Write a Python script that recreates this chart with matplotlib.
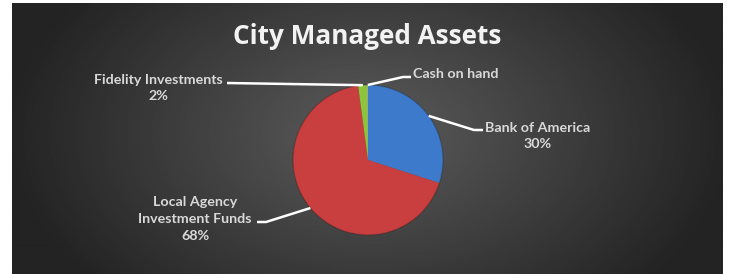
import numpy as np
import matplotlib.pyplot as plt

# data
labels = ["Bank of America", "Local Agency\nInvestment Funds", "Fidelity Investments", "Cash on hand"]
shares = [30.0, 68.0, 2.0, 0.1]
pct_text = ["30%", "68%", "2%", ""]
colors = ["#3d7acb", "#c93e3e", "#8cc43c", "#d0d0d0"]

W, H = 729, 274
fig = plt.figure(figsize=(W / 100, H / 100), dpi=100)
fig.patch.set_facecolor("white")

ax = fig.add_axes([0, 0, 1, 1])

### dark radial background panel
x0, x1, y0, y1 = 12, 723, 0, 271
gx, gy = np.meshgrid(np.linspace(x0, x1, 400), np.linspace(y0, y1, 200))
d = np.sqrt(((gx - 370) / 360) ** 2 + ((gy - 140) / 230) ** 2)
shade = np.clip(0.36 - 0.22 * d, 0.14, 0.36)
ax.imshow(shade, extent=(x0, x1, y0, y1), origin="lower", cmap="gray",
          vmin=0, vmax=1, interpolation="bilinear", zorder=0)

### title
ax.text(367, H - 36, "City Managed Assets", ha="center", va="center",
        fontsize=18.8, fontweight="bold", family="Open Sans", color="#f2f2f2", zorder=5)

### pie
cx, cy, r = 368, H - 160, 75
wedges, _ = ax.pie(shares, colors=colors, startangle=90, counterclock=False,
                   radius=r, center=(cx, cy), frame=True,
                   wedgeprops=dict(linewidth=0))
for w in wedges:
    w.set_zorder(3)
# soft rim to mimic the tilted look
ax.add_patch(plt.Circle((cx, cy), r, fill=False, ec="#000000", lw=1.0, alpha=0.18, zorder=4))
ax.set_xlim(0, W)
ax.set_ylim(0, H)
ax.set_aspect("equal")
ax.axis("off")

### labels with leader lines
# (text x, text y, elbow point, end point, text alignment)
lab_pos = [
    (538, H - 136, (474, H - 130), (483, H - 130), "center"),
    (195, H - 219, (266, H - 222), (257, H - 222), "center"),
    (158, H - 88, (227, H - 83), (227, H - 83), "center"),
    (413, H - 74, (403, H - 77), (411, H - 77), "left"),
]
tot = sum(shares)
acc = 0
for i, s in enumerate(shares):
    mid = 90 - (acc + s / 2) / tot * 360
    acc += s
    px = cx + r * np.cos(np.radians(mid))
    py = cy + r * np.sin(np.radians(mid))
    tx, ty, (ex, ey), (hx, hy), ha = lab_pos[i]
    ax.plot([px, ex, hx], [py, ey, hy], color="white", lw=1.8,
            solid_capstyle="butt", zorder=6)
    txt = labels[i] + ("\n" + pct_text[i] if pct_text[i] else "")
    ax.text(tx, ty, txt, ha=ha, va="center", multialignment="center",
            fontsize=10.3, fontweight="bold", family="Lato", color="#d9d9d9",
            linespacing=1.5, zorder=6)

fig.savefig("out.png", dpi=100, facecolor=fig.get_facecolor())
